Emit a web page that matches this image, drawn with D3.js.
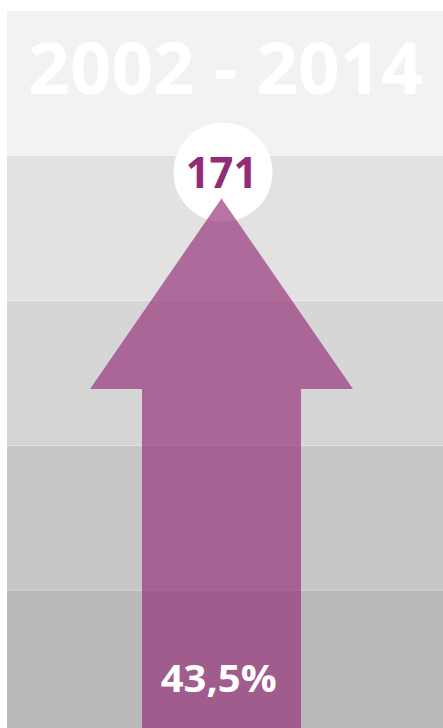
<!DOCTYPE html>
<html>
<head>
<meta charset="utf-8">
<script src="https://cdn.jsdelivr.net/npm/d3@7"></script>
<style>
html,body{margin:0;padding:0;background:#fff;}
svg{display:block;}
text{font-family:"Open Sans",sans-serif;font-weight:700;}
</style>
</head>
<body>
<script>
// Data
const bandLevels = ["b1","b2","b3","b4","b5"];
const bandColors = ["#f2f2f2","#e2e2e2","#d6d6d6","#c7c7c7","#b9b9b9"];
const periodLabel = ["2002 - 2014"];
const countValue = [171];
const percentValue = [43.5];

const W = 443, H = 728;
const svg = d3.select("body").append("svg").attr("width", W).attr("height", H);

// band scale (horizontal stripes background)
const yBand = d3.scaleBand().domain(bandLevels).range([10.7, 735]).paddingInner(0);
const xLeft = 7, xRight = 443;

svg.selectAll("rect.band").data(bandLevels).join("rect")
  .attr("class","band")
  .attr("x", xLeft).attr("width", xRight - xLeft)
  .attr("y", d => yBand(d) + 0.2)
  .attr("height", yBand.bandwidth() - 0.4)
  .attr("fill", (d,i) => bandColors[i]);

// title
svg.append("text").data(periodLabel)
  .attr("x", 225.5).attr("y", 94.3)
  .attr("text-anchor","middle")
  .attr("font-size", 71)
  .attr("textLength", 395).attr("lengthAdjust", "spacingAndGlyphs")
  .attr("fill","#ffffff")
  .text(d => d);

// arrow geometry in a local unit scale
const cx = 221.5;
const ax = d3.scaleLinear().domain([-1, 1]).range([cx - 131.5, cx + 131.5]);
const ay = d3.scaleLinear().domain([0, 1]).range([198.5, 728]);
const headBase = (389 - 198.5) / (728 - 198.5);
const shaftHalf = 79.5 / 131.5;

// circle
svg.append("circle")
  .attr("cx", 223).attr("cy", 172.3).attr("r", 49.5)
  .attr("fill","#ffffff");

const arrowPts = [
  [0, 0], [1, headBase], [shaftHalf, headBase], [shaftHalf, 1],
  [-shaftHalf, 1], [-shaftHalf, headBase], [-1, headBase]
];
svg.append("path")
  .attr("d", d3.line().x(p => ax(p[0])).y(p => ay(p[1]))(arrowPts) + "Z")
  .attr("fill", "#922c76")
  .attr("fill-opacity", 0.66);

// count label
svg.append("text").data(countValue)
  .attr("x", 221.5).attr("y", 187.7)
  .attr("text-anchor","middle")
  .attr("font-size", 43)
  .attr("textLength", 71.6).attr("lengthAdjust", "spacingAndGlyphs")
  .attr("fill","#922c76")
  .text(d => d);

// percent label
const fmt = v => d3.format(".1f")(v).replace(".", ",") + "%";
svg.append("text").data(percentValue)
  .attr("x", 218.7).attr("y", 691.7)
  .attr("text-anchor","middle")
  .attr("font-size", 38)
  .attr("textLength", 116).attr("lengthAdjust", "spacingAndGlyphs")
  .attr("fill","#ffffff")
  .text(d => fmt(d));
</script>
</body>
</html>
